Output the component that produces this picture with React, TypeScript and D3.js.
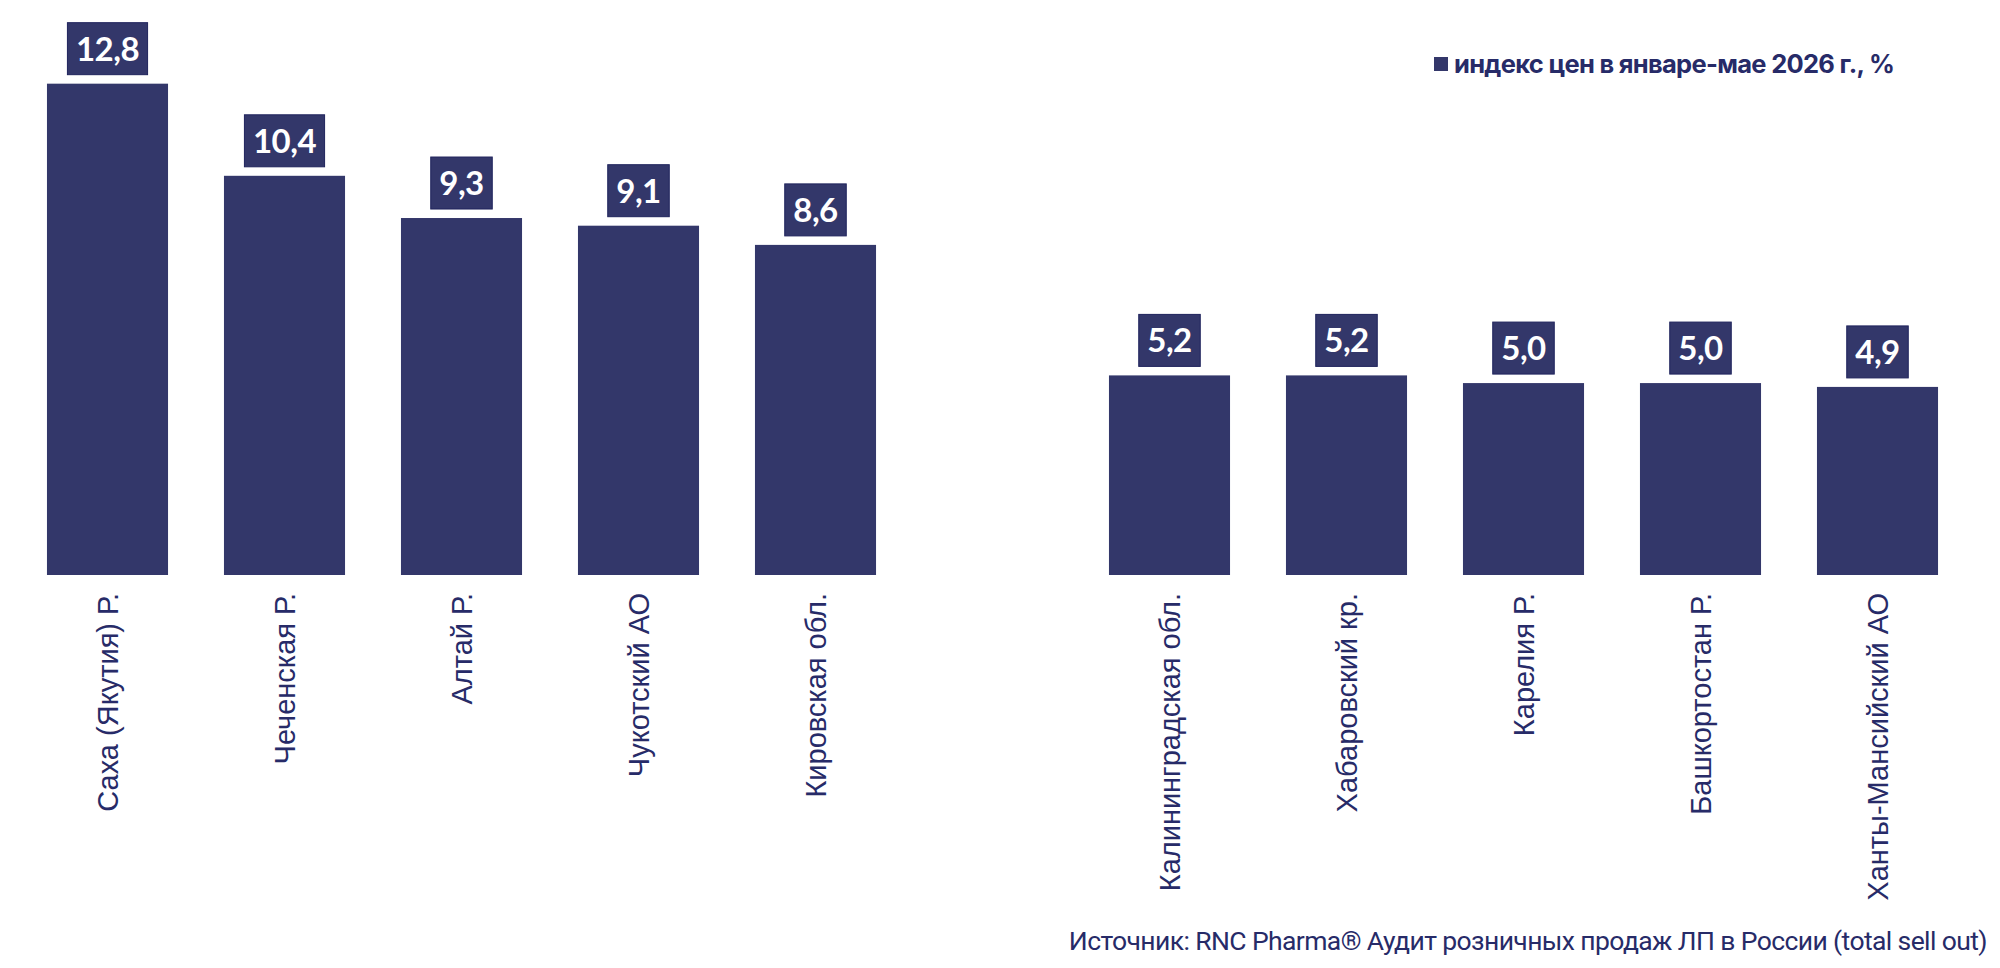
import React, { FC, useEffect, useRef } from "react"
import { scaleBand, scaleLinear, select } from "d3"

const leftRegions = [
  "Саха (Якутия) Р.",
  "Чеченская Р.",
  "Алтай Р.",
  "Чукотский АО",
  "Кировская обл.",
]
const leftValues = [12.8, 10.4, 9.3, 9.1, 8.6]

const rightRegions = [
  "Калининградская обл.",
  "Хабаровский кр.",
  "Карелия Р.",
  "Башкортостан Р.",
  "Ханты-Мансийский АО",
]
const rightValues = [5.2, 5.2, 5.0, 5.0, 4.9]

const legendText = "индекс цен в январе-мае 2026 г., %"
const sourceText =
  "Источник: RNC Pharma® Аудит розничных продаж ЛП в России (total sell out)"

const GAP = "__gap"

type D = { region: string; value: number }

const App: FC = () => {
  const wrapperRef = useRef<HTMLDivElement>(null)

  useEffect(() => {
    const element = wrapperRef.current
    if (!element) return
    select(element).selectAll("*").remove()

    // 1. dimensions
    const width = 2000
    const height = 968
    const baseline = 575
    const navy = "#33376a"
    const textNavy = "#272b68"

    const data: D[] = [
      ...leftRegions.map((region, i) => ({ region, value: leftValues[i] })),
      ...rightRegions.map((region, i) => ({ region, value: rightValues[i] })),
    ]

    // 2. scales
    const xScale = scaleBand<string>()
      .domain([...leftRegions, GAP, ...rightRegions])
      .range([19, 1966])
      .paddingInner(0.316)
      .paddingOuter(0.158)

    const yScale = scaleLinear().domain([0, 13]).range([baseline, 76])

    // 3. mount
    const svg = select(element)
      .append("svg")
      .attr("width", width)
      .attr("height", height)
      .style("position", "absolute")
      .style("left", 0)
      .style("top", 0)
      .style("background", "#fff")

    // 4. bars
    svg
      .append("g")
      .selectAll("rect")
      .data(data)
      .join("rect")
      .attr("x", (d) => xScale(d.region) ?? 0)
      .attr("y", (d) => yScale(d.value))
      .attr("width", xScale.bandwidth())
      .attr("height", (d) => baseline - yScale(d.value))
      .attr("fill", navy)

    // 5. value labels in boxes
    const labels = svg
      .append("g")
      .selectAll("g")
      .data(data)
      .join("g")
      .attr(
        "transform",
        (d) =>
          `translate(${(xScale(d.region) ?? 0) + xScale.bandwidth() / 2},${
            yScale(d.value) - 9 - 26
          })`,
      )

    const boxes = labels
      .append("rect")
      .attr("y", -26)
      .attr("height", 52)
      .attr("fill", navy)
      .attr("stroke", "#1f235c")
      .attr("stroke-width", 1)

    const texts = labels
      .append("text")
      .text((d) => d.value.toFixed(1).replace(".", ","))
      .attr("text-anchor", "middle")
      .attr("dy", "0.36em")
      .attr("fill", "#ffffff")
      .style("font-family", "Lato, 'Open Sans', sans-serif")
      .style("font-weight", 700)
      .style("font-size", "33px")
      .style("letter-spacing", "-0.5px")

    texts.each(function (_, i) {
      const w = (this as SVGTextElement).getComputedTextLength() + 17
      select(boxes.nodes()[i]).attr("x", -w / 2).attr("width", w)
    })

    // 6. category labels
    svg
      .append("g")
      .selectAll("text")
      .data(data)
      .join("text")
      .text((d) => d.region)
      .attr(
        "transform",
        (d) =>
          `translate(${(xScale(d.region) ?? 0) + xScale.bandwidth() / 2},${
            baseline + 18
          }) rotate(-90)`,
      )
      .attr("text-anchor", "end")
      .attr("dy", "0.36em")
      .attr("fill", textNavy)
      .style("font-family", "'Liberation Sans', Arial, sans-serif")
      .style("font-size", "29px")

    // 7. legend
    const legend = svg.append("g").attr("transform", "translate(1434,64)")
    legend
      .append("rect")
      .attr("x", 0)
      .attr("y", -7)
      .attr("width", 14)
      .attr("height", 14)
      .attr("fill", navy)
    legend
      .append("text")
      .text(legendText)
      .attr("x", 20)
      .attr("dy", "0.36em")
      .attr("fill", textNavy)
      .style("font-family", "Inter, sans-serif")
      .style("font-weight", 700)
      .style("font-size", "25.5px")
      .style("letter-spacing", "-0.7px")

    // 8. source
    svg
      .append("text")
      .text(sourceText)
      .attr("x", 1987)
      .attr("y", 940)
      .attr("dy", "0.36em")
      .attr("text-anchor", "end")
      .attr("fill", textNavy)
      .style("font-family", "Roboto, sans-serif")
      .style("font-size", "26.5px")
      .style("letter-spacing", "-0.6px")
  }, [])

  return <div ref={wrapperRef} id="wrapper" />
}

export default App
